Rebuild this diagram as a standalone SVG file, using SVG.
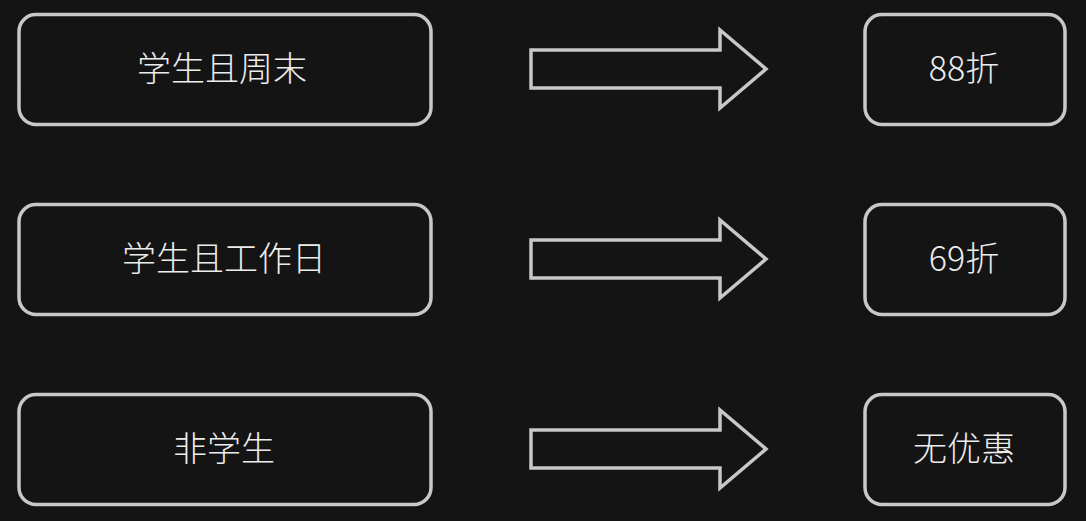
<svg xmlns="http://www.w3.org/2000/svg" width="1086" height="521" viewBox="0 0 1086 521">
<style>
.box{fill:#141414;stroke:#c8c8c8;stroke-width:3.5}
.arrow{fill:#141414;stroke:#c8c8c8;stroke-width:3.5;stroke-linejoin:miter}
.t{font-family:"Noto Sans CJK SC","Noto Sans",sans-serif;font-size:34px;font-weight:300;fill:#ececec;text-anchor:middle;dominant-baseline:central}
</style>
<rect width="1086" height="521" fill="#141414"/>
<g id="cond1"><rect class="box" x="19" y="14.5" width="412" height="110" rx="17"/><text class="t" x="222" y="66">学生且周末</text></g>
<g id="cond2"><rect class="box" x="19" y="204.5" width="412" height="110" rx="17"/><text class="t" x="224" y="256">学生且工作日</text></g>
<g id="cond3"><rect class="box" x="19" y="394.5" width="412" height="110" rx="17"/><text class="t" x="224" y="446">非学生</text></g>
<g id="res1"><rect class="box" x="865" y="14.5" width="200" height="110" rx="17"/><text class="t" x="964" y="66">88折</text></g>
<g id="res2"><rect class="box" x="865" y="204.5" width="200" height="110" rx="17"/><text class="t" x="964" y="256">69折</text></g>
<g id="res3"><rect class="box" x="865" y="394.5" width="200" height="110" rx="17"/><text class="t" x="964" y="446">无优惠</text></g>
<g id="connectors">
<polygon class="arrow" points="531,50 720,50 720,30 766,69 720,108 720,88 531,88"/>
<polygon class="arrow" points="531,240 720,240 720,220 766,259 720,298 720,278 531,278"/>
<polygon class="arrow" points="531,430 720,430 720,410 766,449 720,488 720,468 531,468"/>
</g>
</svg>
